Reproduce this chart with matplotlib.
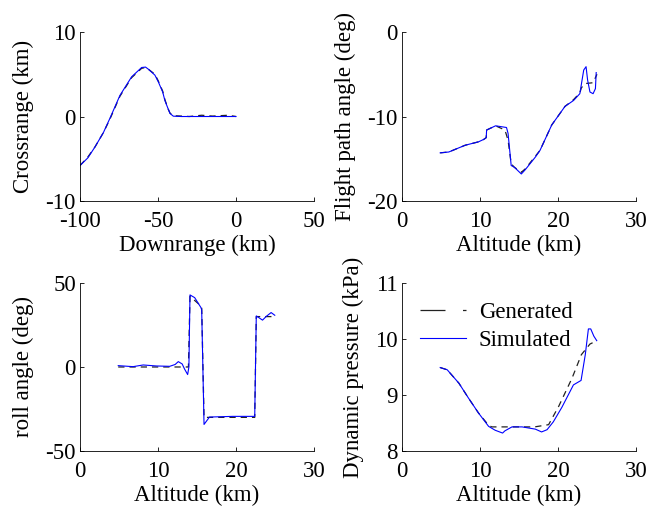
import matplotlib
matplotlib.use("Agg")
import matplotlib.pyplot as plt
from matplotlib.lines import Line2D

plt.rcParams['font.family'] = ['Liberation Serif', 'DejaVu Serif']
plt.rcParams['font.size'] = 16.5
plt.rcParams['axes.unicode_minus'] = False

# crossrange vs downrange
dr_sim = [-100, -95, -90.4, -85, -80.8, -74.4, -66.9, -60.5, -58, -56.2, -52, -49.8, -47, -45.6, -43.5, -42.3, -40.2, -35, -20, -10, 0]
cr_sim = [-5.8, -4.9, -3.6, -1.9, -0.2, 2.5, 4.7, 5.8, 5.85, 5.6, 4.9, 4.1, 2.9, 1.9, 0.9, 0.36, 0.04, 0.0, 0.0, 0.0, 0.0]
dr_gen = [-100, -95, -90.4, -85, -80.8, -74.4, -66.9, -60.5, -58, -56.2, -52, -49.8, -47, -45.6, -43.5, -42.3, -40, -30, -22, -15, -5, 0]
cr_gen = [-5.8, -4.8, -3.6, -1.9, -0.3, 2.4, 4.6, 5.7, 5.8, 5.6, 5.0, 4.2, 3.0, 2.0, 0.9, 0.4, 0.1, 0.0, 0.15, 0.05, 0.15, 0.0]

# flight path angle vs altitude
h_fpa_sim = [4.9, 6.0, 8.1, 9.8, 10.5, 10.8, 10.85, 12.0, 13.4, 13.6, 14.0, 14.4, 15.3, 15.8, 17.1, 17.7, 19.2, 20.9, 22.0, 22.8, 23.3, 23.6, 23.8, 24.1, 24.5, 24.8, 24.9]
fpa_sim = [-14.3, -14.2, -13.4, -13.0, -12.7, -12.5, -11.6, -11.1, -11.3, -12.0, -15.8, -16.0, -16.8, -16.3, -14.8, -14.0, -11.0, -8.8, -8.1, -7.3, -4.5, -4.1, -5.7, -7.1, -7.3, -6.7, -4.8]
h_fpa_gen = [4.9, 6.0, 8.1, 9.8, 10.5, 10.8, 10.85, 12.0, 13.2, 13.6, 14.0, 14.4, 15.3, 15.8, 17.1, 17.7, 19.2, 20.9, 22.0, 22.8, 23.0, 23.5, 24.5, 25.0]
fpa_gen = [-14.3, -14.2, -13.4, -13.0, -12.7, -12.5, -11.6, -11.1, -11.6, -12.8, -15.6, -16.0, -16.6, -16.2, -14.7, -14.0, -11.0, -8.8, -8.0, -7.2, -6.6, -6.1, -6.0, -5.0]

# roll angle vs altitude
h_roll_sim = [4.9, 6.8, 8.1, 9.8, 11.5, 12.2, 12.6, 13.1, 13.4, 13.8, 13.96, 14.1, 14.7, 15.5, 15.6, 15.9, 16.6, 19.6, 22.4, 22.6, 23.4, 23.9, 24.5, 24.97]
roll_sim = [0.8, 0.2, 1.2, 0.6, 0.4, 1.5, 3.2, 1.8, -1.2, -4.5, 0.0, 42.9, 41.3, 35.4, 34.0, -34.2, -29.8, -29.4, -29.4, 30.4, 27.9, 30.2, 32.4, 30.8]
h_roll_gen = [4.9, 13.9, 14.1, 15.6, 15.9, 22.4, 22.6, 25.0]
roll_gen = [0.0, 0.0, 42.0, 36.0, -30.0, -30.0, 30.0, 30.0]

# dynamic pressure vs altitude
h_q_sim = [4.9, 5.8, 7.3, 8.5, 9.8, 11.1, 11.95, 12.9, 13.2, 14.1, 15.4, 17.1, 17.9, 18.6, 19.4, 20.5, 21.5, 21.98, 22.96, 23.5, 23.9, 24.2, 24.6, 24.97]
q_sim = [9.49, 9.45, 9.21, 8.95, 8.68, 8.44, 8.37, 8.32, 8.36, 8.43, 8.43, 8.39, 8.34, 8.38, 8.52, 8.78, 9.05, 9.18, 9.26, 9.72, 10.18, 10.18, 10.05, 9.97]
h_q_gen = [4.9, 5.8, 7.3, 8.5, 9.8, 11.1, 11.5, 17.0, 18.8, 20.1, 21.8, 23.0, 24.1, 25.0]
q_gen = [9.49, 9.45, 9.21, 8.95, 8.68, 8.46, 8.43, 8.43, 8.47, 8.8, 9.3, 9.72, 9.91, 9.97]

fig = plt.figure(figsize=(6.64, 5.09), dpi=100)
w, h = 0.3524, 0.332
positions = [
    [0.1205, 0.6051, w, h],
    [0.6054, 0.6051, w, h],
    [0.1205, 0.114, w, 0.330],
    [0.6054, 0.114, w, 0.330],
]
axs = [fig.add_axes(p) for p in positions]

gen_style = dict(color='#222222', lw=0.9, dashes=(5, 4))
sim_style = dict(color='blue', lw=0.8)

ax = axs[0]
ax.plot(dr_gen, cr_gen, **gen_style)
ax.plot(dr_sim, cr_sim, **sim_style)
ax.set_xlim(-100, 50)
ax.set_ylim(-10, 10)
ax.set_xticks([-100, -50, 0, 50])
ax.set_yticks([-10, 0, 10])
ax.set_xlabel('Downrange (km)')
ax.set_ylabel('Crossrange (km)')

ax = axs[1]
ax.plot(h_fpa_gen, fpa_gen, **gen_style)
ax.plot(h_fpa_sim, fpa_sim, **sim_style)
ax.set_xlim(0, 30)
ax.set_ylim(-20, 0)
ax.set_xticks([0, 10, 20, 30])
ax.set_yticks([-20, -10, 0])
ax.set_xlabel('Altitude (km)')
ax.set_ylabel('Flight path angle (deg)')

ax = axs[2]
ax.plot(h_roll_gen, roll_gen, **gen_style)
ax.plot(h_roll_sim, roll_sim, **sim_style)
ax.set_xlim(0, 30)
ax.set_ylim(-50, 50)
ax.set_xticks([0, 10, 20, 30])
ax.set_yticks([-50, 0, 50])
ax.set_xlabel('Altitude (km)')
ax.set_ylabel('roll angle (deg)')

ax = axs[3]
ax.plot(h_q_gen, q_gen, **gen_style)
ax.plot(h_q_sim, q_sim, **sim_style)
ax.set_xlim(0, 30)
ax.set_ylim(8, 11)
ax.set_xticks([0, 10, 20, 30])
ax.set_yticks([8, 9, 10, 11])
ax.set_xlabel('Altitude (km)')
ax.set_ylabel('Dynamic pressure (kPa)')
handles = [Line2D([], [], color='#222222', lw=0.9, dashes=(20, 14)),
           Line2D([], [], color='blue', lw=0.8)]
ax.legend(handles, ['Generated', 'Simulated'], loc='upper left', frameon=False,
          handlelength=2.0, borderaxespad=0.3, labelspacing=0.3,
          handletextpad=0.55, bbox_to_anchor=(0.01, 0.98))

for ax in axs:
    ax.spines['top'].set_visible(False)
    ax.spines['right'].set_visible(False)
    ax.tick_params(direction='in', length=3, width=0.6)
    ax.tick_params(axis='x', pad=7)
    ax.tick_params(axis='y', pad=3)
    ax.xaxis.labelpad = 2
    ax.yaxis.labelpad = 8
    for s in ('left', 'bottom'):
        ax.spines[s].set_linewidth(0.6)

fig.savefig('out.png', dpi=100)
